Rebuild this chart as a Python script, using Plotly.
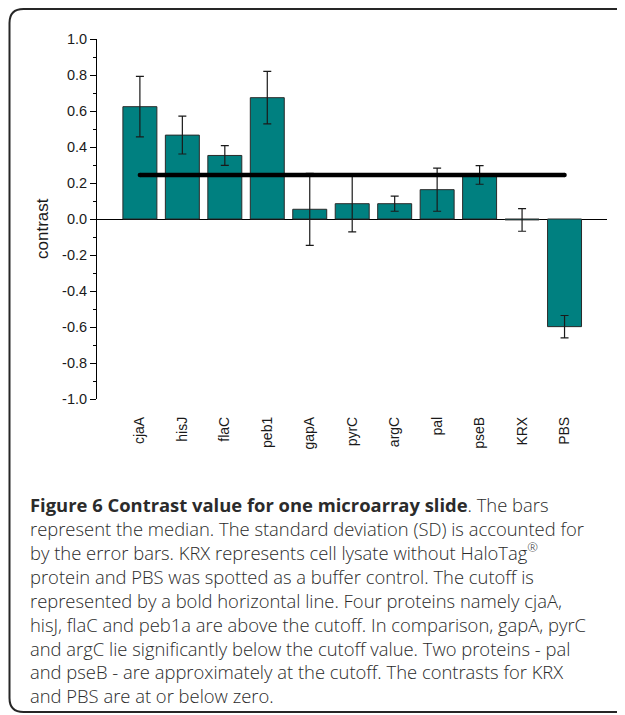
import plotly.graph_objects as go

# ---- data ----
categories = ["cjaA", "hisJ", "flaC", "peb1", "gapA", "pyrC", "argC", "pal", "pseB", "KRX", "PBS"]
medians = [0.624, 0.466, 0.353, 0.674, 0.054, 0.085, 0.085, 0.163, 0.245, -0.005, -0.598]
sd = [0.168, 0.105, 0.055, 0.146, 0.200, 0.157, 0.042, 0.120, 0.052, 0.063, 0.062]
cutoff = 0.245
ytick_vals = [1.0, 0.8, 0.6, 0.4, 0.2, 0.0, -0.2, -0.4, -0.6, -0.8, -1.0]
ytick_text = ["1.0", "0.8", "0.6", "0.4", "0.2", "0.0", "-0.2", "-0.4", "-0.6", "-0.8", "-1.0"]
y_title = "contrast"
caption_lines = [
    "<b>Figure 6 Contrast value for one microarray slide</b>. The bars",
    "represent the median. The standard deviation (SD) is accounted for",
    "by the error bars. KRX represents cell lysate without HaloTag<sup>®</sup>",
    "protein and PBS was spotted as a buffer control. The cutoff is",
    "represented by a bold horizontal line. Four proteins namely cjaA,",
    "hisJ, flaC and peb1a are above the cutoff. In comparison, gapA, pyrC",
    "and argC lie significantly below the cutoff value. Two proteins - pal",
    "and pseB - are approximately at the cutoff. The contrasts for KRX",
    "and PBS are at or below zero.",
]

# page has an 8px body margin: the figure is drawn 8px right/down of the window origin
W, H = 617, 707
ML, MR, MT, MB = 89, 18, 31, 316
PW = W - ML - MR
PH = H - MT - MB


def px(x):
    return (x - ML) / PW


def py(y):
    return (H - MB - y) / PH


fig = go.Figure()
fig.add_trace(go.Bar(
    x=categories, y=medians,
    marker=dict(color="#008080", line=dict(color="#2a2a2a", width=1)),
    error_y=dict(type="data", array=sd, visible=True, color="#1a1a1a", thickness=1.2, width=4),
    width=0.8,
    showlegend=False,
))
fig.add_trace(go.Scatter(
    x=[categories[0], categories[-1]], y=[cutoff, cutoff],
    mode="lines+markers",
    line=dict(color="black", width=4.5),
    marker=dict(color="black", size=4.5),
    showlegend=False,
))

# border (rounded rectangle), in figure pixels
l, t, r, b, rad = 1.5, 1.0, 640, 704, 14
path = (
    f"M {px(l)} {py(t + rad)} "
    f"Q {px(l)} {py(t)} {px(l + rad)} {py(t)} "
    f"L {px(r - rad)} {py(t)} "
    f"Q {px(r)} {py(t)} {px(r)} {py(t + rad)} "
    f"L {px(r)} {py(b - rad)} "
    f"Q {px(r)} {py(b)} {px(r - rad)} {py(b)} "
    f"L {px(l + rad)} {py(b)} "
    f"Q {px(l)} {py(b)} {px(l)} {py(b - rad)} Z"
)
shapes = [dict(type="path", xref="paper", yref="paper", path=path,
               line=dict(color="#262626", width=2), layer="above")]

annotations = [
    dict(
        text=y_title, textangle=-90, xref="paper", yref="paper",
        x=px(34), y=py(221), xanchor="center", yanchor="middle", showarrow=False,
        font=dict(family="Liberation Sans", size=17, color="#1a1a1a"),
    ),
    dict(
        text="<br>".join(caption_lines), xref="paper", yref="paper",
        x=px(20), y=py(592), xanchor="left", yanchor="middle",
        showarrow=False, align="left",
        font=dict(family="Open Sans", size=18.4, color="#2b2b2b", weight=300),
    ),
]

fig.update_layout(
    width=W, height=H,
    margin=dict(l=ML, r=MR, t=MT, b=MB, pad=0),
    paper_bgcolor="white", plot_bgcolor="white",
    shapes=shapes, annotations=annotations,
    bargap=0.2,
)
fig.update_xaxes(
    type="category", range=[-1.01, 11.0],
    showline=False, showgrid=False, zeroline=False, ticks="",
    tickangle=-90, ticklabelstandoff=14,
    tickfont=dict(family="Liberation Sans", size=14, color="#1a1a1a"),
)
fig.update_yaxes(
    range=[-1.0, 1.0], tickmode="array", tickvals=ytick_vals, ticktext=ytick_text,
    ticks="outside", ticklen=6, tickwidth=1, tickcolor="black",
    showline=True, linecolor="black", linewidth=1,
    zeroline=True, zerolinecolor="black", zerolinewidth=1,
    showgrid=False,
    minor=dict(tickmode="linear", tick0=0, dtick=0.1, ticks="outside", ticklen=3, tickcolor="black", tickwidth=1),
    tickfont=dict(family="Liberation Sans", size=14.5, color="#1a1a1a"),
)

fig.write_html("out.html")
